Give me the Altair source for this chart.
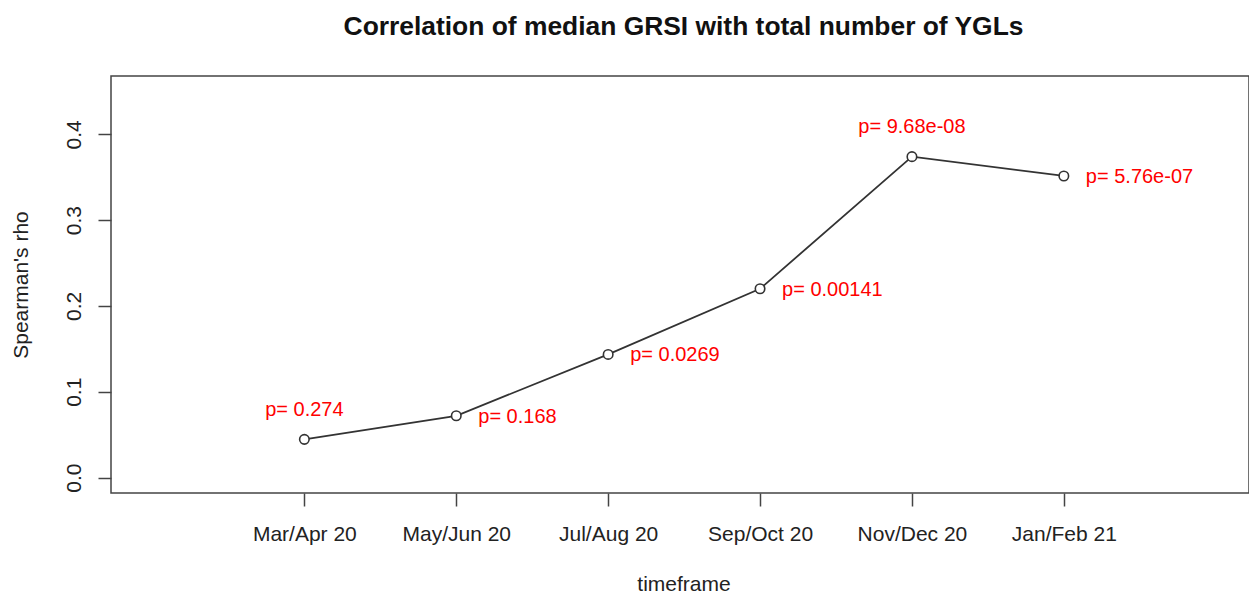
import json
import altair as alt
import pandas as pd

# ---- data ----
timeframes = ["Mar/Apr 20", "May/Jun 20", "Jul/Aug 20", "Sep/Oct 20", "Nov/Dec 20", "Jan/Feb 21"]
rho = [0.0445, 0.0720, 0.1435, 0.2200, 0.3740, 0.3515]
p_labels = ["p= 0.274", "p= 0.168", "p= 0.0269", "p= 0.00141", "p= 9.68e-08", "p= 5.76e-07"]
y_ticks = [0.0, 0.1, 0.2, 0.3, 0.4]
labels_above = ["Mar/Apr 20", "Nov/Dec 20"]

df = pd.DataFrame({"timeframe": timeframes, "idx": list(range(1, len(timeframes) + 1)),
                   "rho": rho, "plab": p_labels})

FONT = "Liberation Sans"
AX = "#444444"

x = alt.X("idx:Q",
          scale=alt.Scale(domain=[-0.273, 7.219], nice=False, zero=False),
          axis=alt.Axis(title="timeframe", values=list(range(1, len(timeframes) + 1)),
                        labelExpr=json.dumps(timeframes) + "[datum.value - 1]",
                        labelAngle=0, labelFontSize=21, labelFont=FONT,
                        labelColor="#222222", labelBaseline="alphabetic", labelPadding=34,
                        labelFlush=False, labelOverlap=False,
                        tickSize=13, tickColor=AX, tickWidth=1.5, domain=False, grid=False,
                        titleFontSize=21, titleFont=FONT, titleFontWeight="normal",
                        titleColor="#222222", titleBaseline="alphabetic",
                        titleAlign="center", titleX=572.5, titleY=97))
y = alt.Y("rho:Q",
          scale=alt.Scale(domain=[-0.018, 0.468], nice=False, zero=False),
          axis=alt.Axis(title="Spearman's rho", values=y_ticks, format=".1f",
                        labelAngle=270, labelAlign="center", labelBaseline="alphabetic",
                        labelPadding=17.5, labelFontSize=21, labelFont=FONT, labelColor="#222222",
                        tickSize=13, tickColor=AX, tickWidth=1.5, domain=False, grid=False,
                        titleFontSize=21, titleFont=FONT, titleFontWeight="normal",
                        titleColor="#222222", titleAngle=270, titleAlign="center",
                        titleBaseline="alphabetic", titleX=-84, titleY=208.5))

base = alt.Chart(df).encode(x=x, y=y)

line = base.mark_line(color="#333333", strokeWidth=1.8)
pts = base.mark_point(shape="circle", filled=True, fill="white", stroke="#333333",
                      strokeWidth=1.6, size=90, opacity=1)
txt_above = base.transform_filter(
    alt.FieldOneOfPredicate(field="timeframe", oneOf=labels_above)
).mark_text(color="#ff0000", fontSize=20, font=FONT, align="center",
            baseline="alphabetic", dy=-23.5).encode(text="plab:N")
txt_right = base.transform_filter(
    {"not": alt.FieldOneOfPredicate(field="timeframe", oneOf=labels_above)}
).mark_text(color="#ff0000", fontSize=20, font=FONT, align="left",
            baseline="alphabetic", dx=22, dy=7).encode(text="plab:N")

chart = alt.layer(line, pts, txt_above, txt_right).properties(
    width=1138, height=417,
    autosize=alt.AutoSizeParams(type="none"),
    padding={"left": 103, "top": 68, "right": 0, "bottom": 104},
    title=alt.TitleParams("Correlation of median GRSI with total number of YGLs",
                          fontSize=26.4, font=FONT, fontWeight="bold", color="#111111",
                          anchor="middle", baseline="alphabetic", offset=15, dx=3.5),
).configure(background="white").configure_view(stroke=AX, strokeWidth=1.5)

chart.save("out.html", embed_options={"renderer": "svg", "actions": False})
